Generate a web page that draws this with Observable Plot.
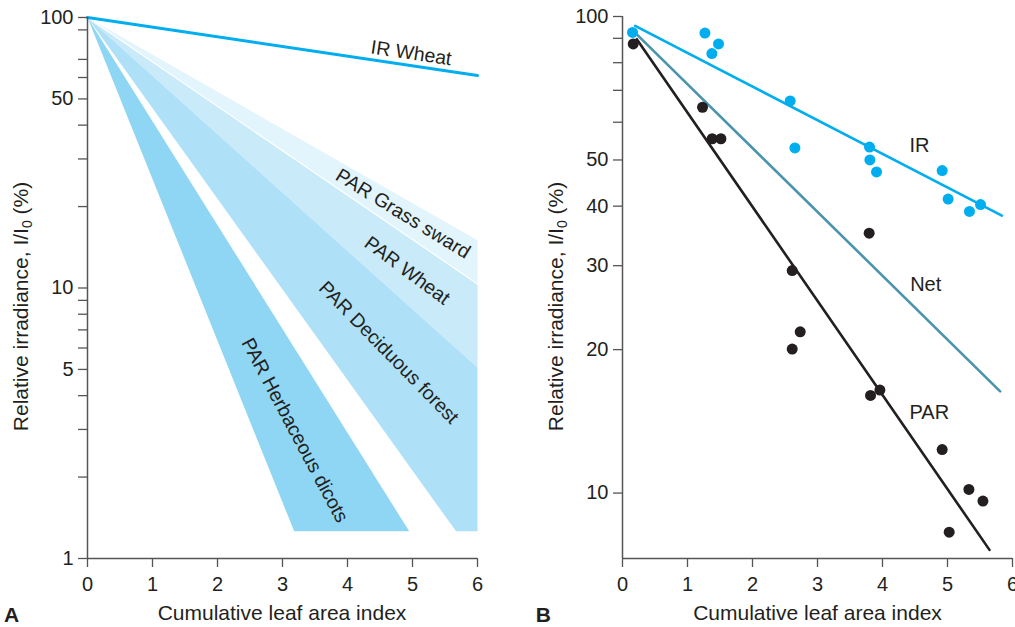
<!DOCTYPE html>
<html>
<head>
<meta charset="utf-8">
<script src="https://cdn.jsdelivr.net/npm/d3@7"></script>
<script src="https://cdn.jsdelivr.net/npm/@observablehq/plot@0.6"></script>
<style>
  html, body { margin: 0; padding: 0; background: #fff; }
  #wrap { position: relative; width: 1015px; height: 627px; overflow: hidden; background: #fff; }
  #panelA { position: absolute; left: 0; top: 0; }
  #panelB { position: absolute; left: 510px; top: 0; }
</style>
</head>
<body>
<div id="wrap"><div id="panelA"></div><div id="panelB"></div></div>
<script>
// ---------- Panel A data ----------
const xTicks = [0, 1, 2, 3, 4, 5, 6];
const yTicksA = [1, 2, 3, 4, 5, 6, 7, 8, 9, 10, 20, 30, 40, 50, 60, 70, 90, 100];
const yLabelsA = [1, 5, 10, 50, 100];
const grassBand = [[0, 100], [6, 15.0], [6, 10.35]];
const wheatBand = [[0, 100], [6, 10.35], [6, 5.08]];
const deciduousBand = [[0, 100], [6, 5.08], [6, 1.26], [5.67, 1.26]];
const herbaceousBand = [[0, 100], [4.95, 1.26], [3.18, 1.26]];
const grassLowerEdge = [[0, 100], [6, 10.35]];
const irWheatLine = [[0, 100], [6, 61]];
const labelsA = ["IR Wheat", "PAR Grass sward", "PAR Wheat", "PAR Deciduous forest", "PAR Herbaceous dicots"];
const labelXA = [4.98, 4.854, 4.918, 4.635, 3.188];
const labelYA = [73.8, 18.8, 11.6, 5.77, 2.98];
const labelAngleA = [8.5, 31.5, 36.5, 45.6, 62];

// ---------- Panel B data ----------
const yTicksB = [10, 20, 30, 40, 50, 60, 70, 80, 90, 100];
const yLabelsB = [10, 20, 30, 40, 50, 100];
const yDomainB = [7.29, 100];
const irX = [0.154, 1.268, 1.477, 1.375, 2.58, 2.652, 3.80, 3.806, 3.908, 4.918, 5.01, 5.338, 5.508];
const irY = [92.6, 92.3, 87.6, 83.6, 66.5, 53.0, 53.2, 50.0, 47.2, 47.5, 41.4, 39.0, 40.3];
const parX = [0.165, 1.231, 1.38, 1.514, 3.795, 2.611, 2.611, 2.734, 3.816, 3.96, 4.918, 5.329, 5.545, 5.026];
const parY = [87.6, 64.5, 55.4, 55.4, 35.1, 29.3, 20.05, 21.8, 16.03, 16.45, 12.34, 10.18, 9.62, 8.28];
const irFit = [[0.195, 95.6], [5.837, 38.2]];
const netFit = [[0.231, 91.4], [5.81, 16.35]];
const parFit = [[0.22, 89.6], [5.646, 7.6]];
const labelsB = ["IR", "Net", "PAR"];
const labelXB = [4.57, 4.665, 4.72];
const labelYB = [53.7, 27.4, 14.76];

// ---------- styles ----------
const FONT = "'Liberation Sans', Arial, Helvetica, sans-serif";
const INK = "#231f20";
const AXIS = "#555555";
const CYAN = "#00aeef";
const NET = "#4b94ad";
const bandColors = ["#e2f4fc", "#c9eaf9", "#aee1f8", "#8fd6f5"];

const baseStyle = { fontFamily: FONT, fontSize: "20px", color: INK, background: "white", overflow: "visible" };
const P = d => d[0], Q = d => d[1];

// ---------- Panel A ----------
const lblA = labelsA.map((t, i) => ({ t, x: labelXA[i], y: labelYA[i], r: labelAngleA[i] }));
const plotA = Plot.plot({
  width: 500, height: 627,
  marginLeft: 87, marginRight: 23, marginTop: 17, marginBottom: 69,
  style: baseStyle,
  x: { domain: [0, 6] },
  y: { type: "log", domain: [1, 100] },
  marks: [
    Plot.line(grassBand, { x: P, y: Q, fill: bandColors[0], stroke: "none" }),
    Plot.line(wheatBand, { x: P, y: Q, fill: bandColors[1], stroke: "none" }),
    Plot.line(deciduousBand, { x: P, y: Q, fill: bandColors[2], stroke: "none" }),
    Plot.line(herbaceousBand, { x: P, y: Q, fill: bandColors[3], stroke: "none" }),
    Plot.line(grassLowerEdge, { x: P, y: Q, stroke: "white", strokeWidth: 1.2 }),
    Plot.line(irWheatLine, { x: P, y: Q, stroke: CYAN, strokeWidth: 3 }),
    Plot.text(lblA, { x: "x", y: "y", text: "t", rotate: "r", fontSize: 19.5, fill: INK }),
    Plot.ruleX([0], { stroke: AXIS, strokeWidth: 1.5 }),
    Plot.ruleY([1], { stroke: AXIS, strokeWidth: 1.5 }),
    Plot.axisY({ ticks: yTicksA, tickFormat: d => yLabelsA.includes(d) ? String(d) : "", tickSize: 9, tickPadding: 5, label: null, stroke: AXIS, fill: INK, strokeWidth: 1.3 }),
    Plot.axisX({ ticks: xTicks, tickFormat: d => String(d), tickSize: 9, tickPadding: 9, label: null, stroke: AXIS, fill: INK, strokeWidth: 1.3 })
  ]
});
document.getElementById("panelA").appendChild(plotA);

// ---------- Panel B ----------
const irPts = irX.map((x, i) => ({ x, y: irY[i] }));
const parPts = parX.map((x, i) => ({ x, y: parY[i] }));
const lblB = labelsB.map((t, i) => ({ t, x: labelXB[i], y: labelYB[i] }));
const plotB = Plot.plot({
  width: 505, height: 627,
  marginLeft: 112, marginRight: 3, marginTop: 16, marginBottom: 69,
  style: baseStyle,
  x: { domain: [0, 6] },
  y: { type: "log", domain: yDomainB },
  marks: [
    Plot.line(netFit, { x: P, y: Q, stroke: NET, strokeWidth: 2.6 }),
    Plot.line(parFit, { x: P, y: Q, stroke: INK, strokeWidth: 2.6 }),
    Plot.line(irFit, { x: P, y: Q, stroke: CYAN, strokeWidth: 2.6 }),
    Plot.dot(parPts, { x: "x", y: "y", r: 5.5, fill: INK, stroke: "none" }),
    Plot.dot(irPts, { x: "x", y: "y", r: 5.5, fill: CYAN, stroke: "none" }),
    Plot.text(lblB, { x: "x", y: "y", text: "t", fontSize: 20, fill: INK }),
    Plot.ruleX([0], { stroke: AXIS, strokeWidth: 1.5 }),
    Plot.ruleY([yDomainB[0]], { stroke: AXIS, strokeWidth: 1.5 }),
    Plot.axisY({ ticks: yTicksB, tickFormat: d => yLabelsB.includes(d) ? String(d) : "", tickSize: 9, tickPadding: 5, label: null, stroke: AXIS, fill: INK, strokeWidth: 1.3 }),
    Plot.axisX({ ticks: xTicks, tickFormat: d => String(d), tickSize: 9, tickPadding: 9, label: null, stroke: AXIS, fill: INK, strokeWidth: 1.3 })
  ]
});
document.getElementById("panelB").appendChild(plotB);

// ---------- titles (real SVG text) ----------
function addTitles(svgNode, xTitleX, yTitleX, panelLetter, letterX) {
  const svg = d3.select(svgNode);
  svg.append("text")
    .attr("x", xTitleX).attr("y", 620)
    .attr("text-anchor", "middle")
    .attr("font-family", FONT).attr("font-size", 21).attr("fill", INK)
    .text("Cumulative leaf area index");
  const yt = svg.append("text")
    .attr("transform", `translate(${yTitleX},306.5) rotate(-90)`)
    .attr("text-anchor", "middle")
    .attr("font-family", FONT).attr("font-size", 21).attr("fill", INK);
  yt.append("tspan").text("Relative irradiance, I/I");
  yt.append("tspan").attr("font-size", 14).attr("dy", 4).text("0");
  yt.append("tspan").attr("dy", -4).text(" (%)");
  svg.append("text")
    .attr("x", letterX).attr("y", 621.5)
    .attr("font-family", FONT).attr("font-size", 21).attr("font-weight", "bold").attr("fill", INK)
    .text(panelLetter);
}
addTitles(plotA, 282, 28, "A", 11.5);
addTitles(plotB, 307.5, 53, "B", 33.3);
</script>
</body>
</html>
